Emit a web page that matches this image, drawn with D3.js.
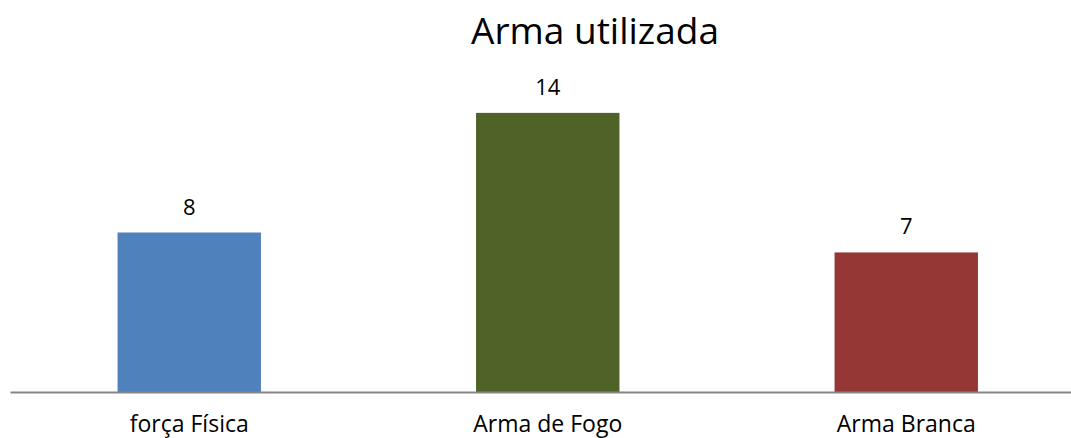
<!DOCTYPE html>
<meta charset="utf-8">
<style>
  body { margin: 0; background: #fff; }
  text { font-family: "Open Sans", sans-serif; fill: #000; }
</style>
<div id="chart"></div>
<script src="https://d3js.org/d3.v7.min.js"></script>
<script>
  const categories = ["força Física", "Arma de Fogo", "Arma Branca"];
  const values = [8, 14, 7];
  const colors = ["#4F81BD", "#4F6228", "#953735"];
  const title = "Arma utilizada";

  const width = 1071, height = 438;
  const baseY = 392;

  const x = d3.scaleBand()
    .domain(categories)
    .range([10, 1085.5])
    .padding(0);
  const y = d3.scaleLinear()
    .domain([0, 16])
    .range([baseY, 73]);
  const barW = x.bandwidth() * 0.4;

  const svg = d3.select("#chart").append("svg")
    .attr("width", width)
    .attr("height", height);

  svg.append("text")
    .attr("x", 595)
    .attr("y", 44)
    .attr("text-anchor", "middle")
    .style("font-size", "37px")
    .text(title);

  svg.append("g")
    .selectAll("rect")
    .data(values)
    .join("rect")
      .attr("x", (d, i) => x(categories[i]) + x.bandwidth() / 2 - barW / 2)
      .attr("y", d => y(d))
      .attr("width", barW)
      .attr("height", d => y(0) - y(d))
      .attr("fill", (d, i) => colors[i]);

  svg.append("g")
    .selectAll("text")
    .data(values)
    .join("text")
      .attr("x", (d, i) => x(categories[i]) + x.bandwidth() / 2)
      .attr("y", d => y(d) - 18)
      .attr("text-anchor", "middle")
      .style("font-size", "22px")
      .text(d => d);

  // category axis
  const xAxis = svg.append("g")
    .attr("transform", `translate(0,${baseY})`)
    .call(d3.axisBottom(x).tickSize(0).tickPadding(0));
  xAxis.select(".domain").attr("stroke", "#868686").attr("stroke-width", 2);
  xAxis.selectAll(".tick text")
    .attr("dy", null)
    .attr("y", 40)
    .style("font-size", "23px")
    .style("font-family", "'Open Sans', sans-serif")
    .attr("fill", "#000");
</script>
